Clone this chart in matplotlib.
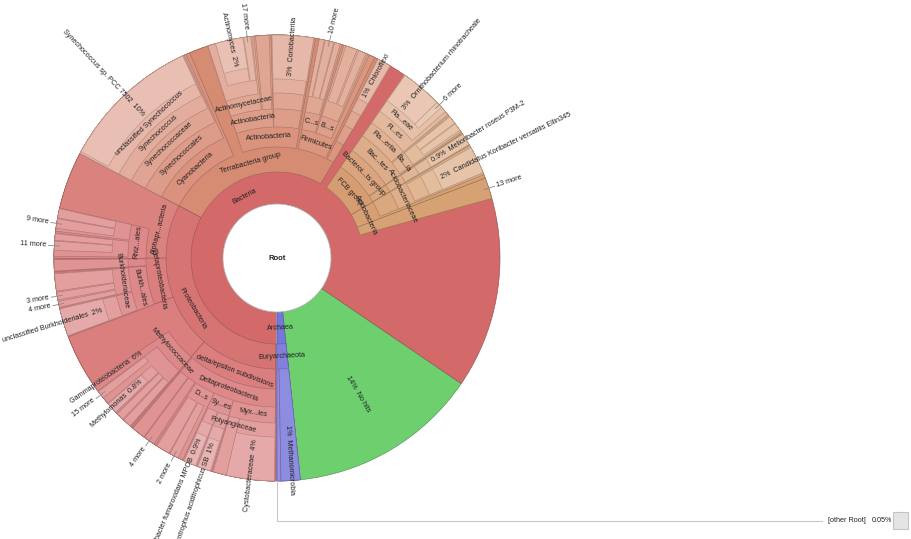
import math;
import colorsys;
import numpy as np;
import matplotlib;
matplotlib.use("Agg");
import matplotlib.pyplot as plt;
from matplotlib.patches import Wedge, Circle, Rectangle;

plt.rcParams["font.family"] = ["Liberation Sans", "DejaVu Sans"];

# percent of all reads per node, one list per ring, counterclockwise from the start of "No hits"
# None = no child there, the parent shows through
ring1 = [("No hits", 13.81), ("Bacteria", 84.47), ("[other Root]", 0.05), ("Archaea", 1.67)];
ring2 = [(None, 27.64), ("13 more", 1.53), ("Acidobacteria", 2.58), ("FCB group", 6.86), (None, 1.25),
         ("Terrabacteria group", 25.69), ("Proteobacteria", 32.58), (None, 0.19), ("Euryarchaeota", 1.67)];
ring3 = [(None, 29.44), ("", 2.31), (None, 0.06), ("", 0.92), (None, 0.06), ("Bacteroi...ts group", 5.83),
         (None, 1.25), ("", 1.00), (None, 0.25), ("Firmicutes", 4.17), (None, 0.28), ("Actinobacteria", 7.78),
         (None, 1.39), ("Cyanobacteria", 10.83), ("Alphapr...acteria", 7.78), ("Betaproteobacteria", 5.72),
         ("Gammaproteobacteria", 7.89), ("delta/epsilon subdivisions", 11.19), (None, 0.19), ("", 0.28),
         ("Methanomicrobia", 1.39)];
ring4 = [(None, 29.44), ("Acidobacteriaceae", 2.31), (None, 0.06), ("", 0.92), (None, 0.06), ("Bac...tes", 5.83),
         (None, 1.25), ("", 1.00), (None, 0.67), ("B...s", 1.94), (None, 0.14), ("C...s", 1.67), (None, 0.42),
         ("", 3.00), (None, 0.06), ("Actinobacteria", 4.58), (None, 1.67), ("Synechococcales", 10.56),
         (None, 4.17), ("Rhiz...ales", 3.61), (None, 0.08), ("", 0.83), (None, 0.06), ("Burkh...ales", 4.75),
         (None, 3.72), ("Methylococcaceae", 4.17), (None, 0.14), ("Deltaproteobacteria", 11.06)];
ring5 = [(None, 29.58), ("", 2.00), (None, 0.25), ("", 0.86), (None, 0.22), ("Ba...ia", 1.39), (None, 0.14),
         ("Fla...eriia", 4.17), (None, 1.25), ("", 1.00), (None, 0.81), ("", 1.81), (None, 0.28), ("", 1.53),
         (None, 0.42), ("", 3.00), (None, 0.19), ("", 0.97), (None, 0.14), ("Actinomycetaceae", 3.33),
         (None, 1.81), ("Synechococcaceae", 10.42), (None, 4.17), ("", 1.67), (None, 0.14), ("", 1.67),
         (None, 0.22), ("", 0.83), (None, 0.14), ("Burkholderiaceae", 2.50), (None, 0.11), ("", 2.00),
         (None, 4.47), ("", 3.47), (None, 0.19), ("", 1.00), (None, 0.06), ("4 more", 0.83), (None, 0.14),
         ("D...s", 2.22), ("Sy...es", 2.22), ("Myx...les", 4.53)];
ring6 = [(None, 29.58), ("", 2.00), (None, 0.25), ("", 0.86), (None, 0.22), ("", 1.39), (None, 0.14),
         ("Fl...es", 4.17), (None, 1.25), ("", 1.00), (None, 0.94), ("", 0.56), (None, 0.14), ("", 0.83),
         (None, 0.42), ("", 0.42), (None, 0.06), ("10 more", 0.64), (None, 0.06), ("", 0.36), (None, 0.42),
         ("", 3.00), (None, 1.44), ("", 3.19), (None, 1.89), ("Synechococcus", 10.33), (None, 4.22),
         ("", 0.67), (None, 0.06), ("9 more", 0.69), (None, 0.39), ("", 0.47), (None, 0.06), ("11 more", 0.67),
         (None, 1.67), ("", 1.25), (None, 0.08), ("3 more", 0.56), (None, 0.11), ("4 more", 0.42), (None, 0.14),
         ("", 2.00), (None, 4.53), ("15 more", 0.58), (None, 0.50), ("", 0.92), (None, 0.08), ("", 0.56),
         (None, 0.08), ("", 0.64), (None, 2.36), ("", 1.03), (None, 0.06), ("2 more", 0.67), (None, 0.44),
         ("", 1.00), (None, 0.06), ("", 1.06), (None, 0.11), ("Polyangiaceae", 1.00), ("", 3.47)];
ring7 = [(None, 29.58), ("Candidatus Koribacter versatilis Ellin345", 2.00), (None, 0.25),
         ("Melioribacter roseus P3M-2", 0.86), (None, 0.36), ("", 0.56), (None, 0.06), ("", 0.58), (None, 0.47),
         ("Fla...eae", 3.89), (None, 1.25), ("Chloroflexi", 1.00), (None, 4.83), ("Coriobacteriia", 3.00),
         (None, 1.53), ("17 more", 0.50), (None, 0.06), ("", 2.00), (None, 2.50),
         ("unclassified Synechococcus", 10.28), (None, 11.44), ("unclassified Burkholderiales", 2.00),
         (None, 5.67), ("Methylomonas", 0.81), (None, 5.97), ("", 1.00), (None, 0.06), ("", 1.06), (None, 1.11),
         ("Cystobacteraceae", 3.47)];
ring8 = [(None, 35.14), ("6 more", 0.47), ("Ornithobacterium rhinotracheale", 3.00), (None, 12.17),
         ("Actinomyces", 2.00), (None, 2.50), ("Synechococcus sp. PCC 7502", 10.14), (None, 26.08),
         ("Syntrophobacter fumaroxidans MPOB", 0.89), (None, 0.17), ("Syntrophus aciditrophicus SB", 0.94)];

rings = [ring1, ring2, ring3, ring4, ring5, ring6, ring7, ring8];

# nodes labelled radially with their percentage
radial_pct = {"No hits": "14%", "Methanomicrobia": "1%", "Gammaproteobacteria": "6%", "Chloroflexi": "1%",
              "Coriobacteriia": "3%", "Candidatus Koribacter versatilis Ellin345": "2%",
              "Melioribacter roseus P3M-2": "0.9%", "Ornithobacterium rhinotracheale": "3%",
              "Actinomyces": "2%", "Synechococcus sp. PCC 7502": "10%", "unclassified Burkholderiales": "2%",
              "Methylomonas": "0.8%", "Cystobacteraceae": "4%", "Syntrophobacter fumaroxidans MPOB": "0.9%",
              "Syntrophus aciditrophicus SB": "1%"};
other_root_pct = "0.05%";

W, H = 911, 539;
cx, cy = 277, 281;
R = 223;
radii = [54, 86, 111, 131, 149, 165, 179, 192];
start = -84.0;
label_r0 = {"No hits": 138, "Methanomicrobia": 167, "Gammaproteobacteria": 165};
fs = 5.2;
tc = "#222222";

fig = plt.figure(figsize=(W / 100, H / 100), dpi=100);
ax = fig.add_axes([0, 0, 1, 1]);
ax.set_xlim(0, W);
ax.set_ylim(0, H);
ax.axis("off");

def pt(r, a):
    return cx + r * math.cos(math.radians(a)), cy + r * math.sin(math.radians(a));

# top level spans, used for colouring
tops = [];
pos = 0;
for name, p in ring1:
    tops.append((name, start + pos * 3.6, start + (pos + p) * 3.6));
    pos += p;

def hls_for(mid, depth):
    top = "Bacteria";
    for name, a1, a2 in tops:
        if a1 <= mid <= a2:
            top = name;
    L = 0.62 + 0.027 * (depth - 1);
    if top == "No hits":
        return 120, L, 0.5;
    if top == "Archaea":
        return 240 + max(0, 271.5 - mid) * 14, L + 0.04, 0.58;
    if top == "[other Root]":
        return 0, 0.88, 0.0;
    if depth == 1:
        return 0, L, 0.55;
    return float(np.interp(mid, [15, 45, 60, 152, 170], [28, 25, 16, 12, 0])), L, 0.55;

texts = [];
for depth, ring in enumerate(rings, start=1):
    r_in = radii[depth - 1];
    r_out = radii[depth] if depth < len(radii) else R;
    pos = 0;
    for name, p in ring:
        a1 = start + pos * 3.6;
        a2 = a1 + p * 3.6;
        pos += p;
        if name is None:
            continue;
        h, L, s = hls_for((a1 + a2) / 2, depth);
        fc = colorsys.hls_to_rgb(h / 360, L, s);
        ec = colorsys.hls_to_rgb(h / 360, max(L - 0.17, 0.3), s * 0.5);
        ax.add_patch(Wedge((cx, cy), R, a1, a2, width=R - r_in, facecolor=fc, edgecolor=ec, linewidth=0.45));
        texts.append((name, a1, a2, r_in, r_out));

ax.add_patch(Circle((cx, cy), radii[0], facecolor="white", edgecolor="#b8b8b8", linewidth=0.6));
ax.text(cx, cy, "Root", ha="center", va="center", fontsize=5.6, fontweight="bold", color=tc);

for name, a1, a2, r_in, r_out in texts:
    mid = (a1 + a2) / 2;
    a = mid % 360;
    right = a < 90 or a > 270;
    rad_rot = a if right else a - 180;
    if name == "":
        continue;
    if name == "[other Root]":
        x0, y0 = pt(R, mid);
        yb = cy - R - 40;
        ax.plot([x0, x0, 822], [y0, yb, yb], color="#c8c8c8", linewidth=0.8);
        ax.text(828, yb, name, ha="left", va="center", fontsize=fs, color=tc);
        ax.text(872, yb, other_root_pct, ha="left", va="center", fontsize=fs, color=tc);
        ax.add_patch(Rectangle((893, yb - 8), 15, 17, facecolor="#e4e4e4", edgecolor="#c4c4c4", linewidth=0.8));
    elif name.endswith(" more"):
        x1, y1 = pt(R - 5, mid);
        x2, y2 = pt(R + 6, mid);
        ax.plot([x1, x2], [y1, y2], color="#8a8a8a", linewidth=0.6);
        x, y = pt(R + 8, mid);
        ax.text(x, y, name, rotation=rad_rot, rotation_mode="anchor", ha="left" if right else "right",
                va="center", fontsize=fs, color=tc);
    elif name in radial_pct:
        r0 = label_r0.get(name, r_in + 4);
        s = radial_pct[name] + "  " + name if right else name + "  " + radial_pct[name];
        x, y = pt(r0, mid);
        ax.text(x, y, s, rotation=rad_rot, rotation_mode="anchor", ha="left" if right else "right",
                va="center", fontsize=fs, color=tc);
    else:
        rot = a - 90 if 0 < a < 180 else a + 90;
        x, y = pt((r_in + r_out) / 2, mid);
        ax.text(x, y, name, rotation=rot, rotation_mode="anchor", ha="center", va="center",
                fontsize=fs, color=tc);

fig.savefig("out.png", dpi=100, facecolor="white");
